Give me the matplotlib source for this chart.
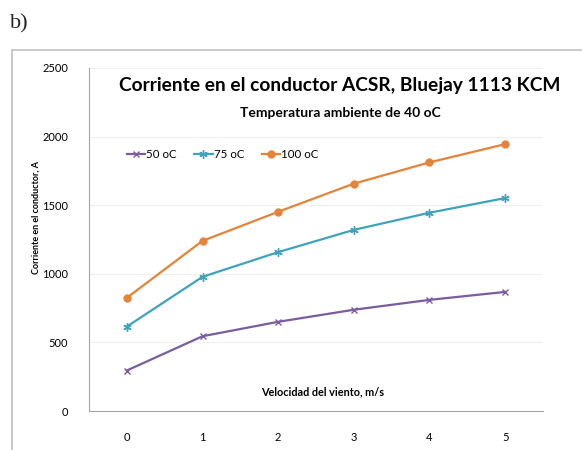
import matplotlib
matplotlib.use("Agg")
import matplotlib.pyplot as plt
from matplotlib.patches import Rectangle

velocidad = [0, 1, 2, 3, 4, 5]
corriente_50 = [295, 545, 650, 738, 810, 868]
corriente_75 = [615, 978, 1158, 1320, 1445, 1552]
corriente_100 = [825, 1240, 1452, 1657, 1812, 1945]
y_ticks = [0, 500, 1000, 1500, 2000, 2500]

plt.rcParams['font.family'] = ['Lato', 'DejaVu Sans']

fig = plt.figure(figsize=(5.82, 4.5), dpi=100)

# marco exterior del grafico
fig.patches.append(Rectangle((12 / 582, -0.1), 1.0, (450 - 50) / 450 + 0.1,
                             transform=fig.transFigure, fill=False,
                             edgecolor='#c0c0c0', linewidth=1.2))
fig.text(10 / 582, (450 - 24) / 450, "b)", fontsize=16, family='Liberation Serif',
         ha='left', va='center', color='#222222')

ax = fig.add_axes([89 / 582, 39 / 450, (543 - 89) / 582, (411 - 68) / 450])

ax.plot(velocidad, corriente_50, color='#7b5c9e', marker='x', markersize=5,
        markeredgewidth=1.0, linewidth=1.6, label='50 oC')
ax.plot(velocidad, corriente_75, color='#3fa3bc', marker=(6, 2, 0), markersize=6,
        markeredgewidth=1.0, linewidth=1.6, label='75 oC')
ax.plot(velocidad, corriente_100, color='#e3843a', marker='o', markersize=5,
        linewidth=1.6, label='100 oC')

ax.set_xlim(-0.5, 5.5)
ax.set_ylim(0, 2500)
ax.set_xticks(velocidad)
ax.set_yticks(y_ticks)
ax.tick_params(axis='x', length=0, pad=15, labelsize=8)
ax.tick_params(axis='y', length=0, pad=15, labelsize=8)
ax.grid(axis='y', color='#efefef', linewidth=0.8)
ax.set_axisbelow(True)
for s in ['top', 'right']:
    ax.spines[s].set_visible(False)
for s in ['left', 'bottom']:
    ax.spines[s].set_color('#a6a6a6')

fig.text(340 / 582, (450 - 86) / 450, "Corriente en el conductor ACSR, Bluejay 1113 KCM",
         ha='center', va='center', fontsize=13.8, fontweight='bold')
fig.text(340 / 582, (450 - 113) / 450, "Temperatura ambiente de 40 oC",
         ha='center', va='center', fontsize=10, fontweight='bold')
fig.text(323 / 582, (450 - 392) / 450, "Velocidad del viento, m/s",
         ha='center', va='center', fontsize=7.8, fontweight='bold')
fig.text(36 / 582, (450 - 218) / 450, "Corriente en el conductor, A",
         ha='center', va='center', rotation=90, fontsize=6.5, fontweight='bold')

ax.legend(loc='upper left', bbox_to_anchor=(0.06, 0.795), ncol=3, frameon=False,
          fontsize=8.3, handlelength=1.6, handletextpad=0.1, columnspacing=1.5)

fig.savefig("out.png", dpi=100)
